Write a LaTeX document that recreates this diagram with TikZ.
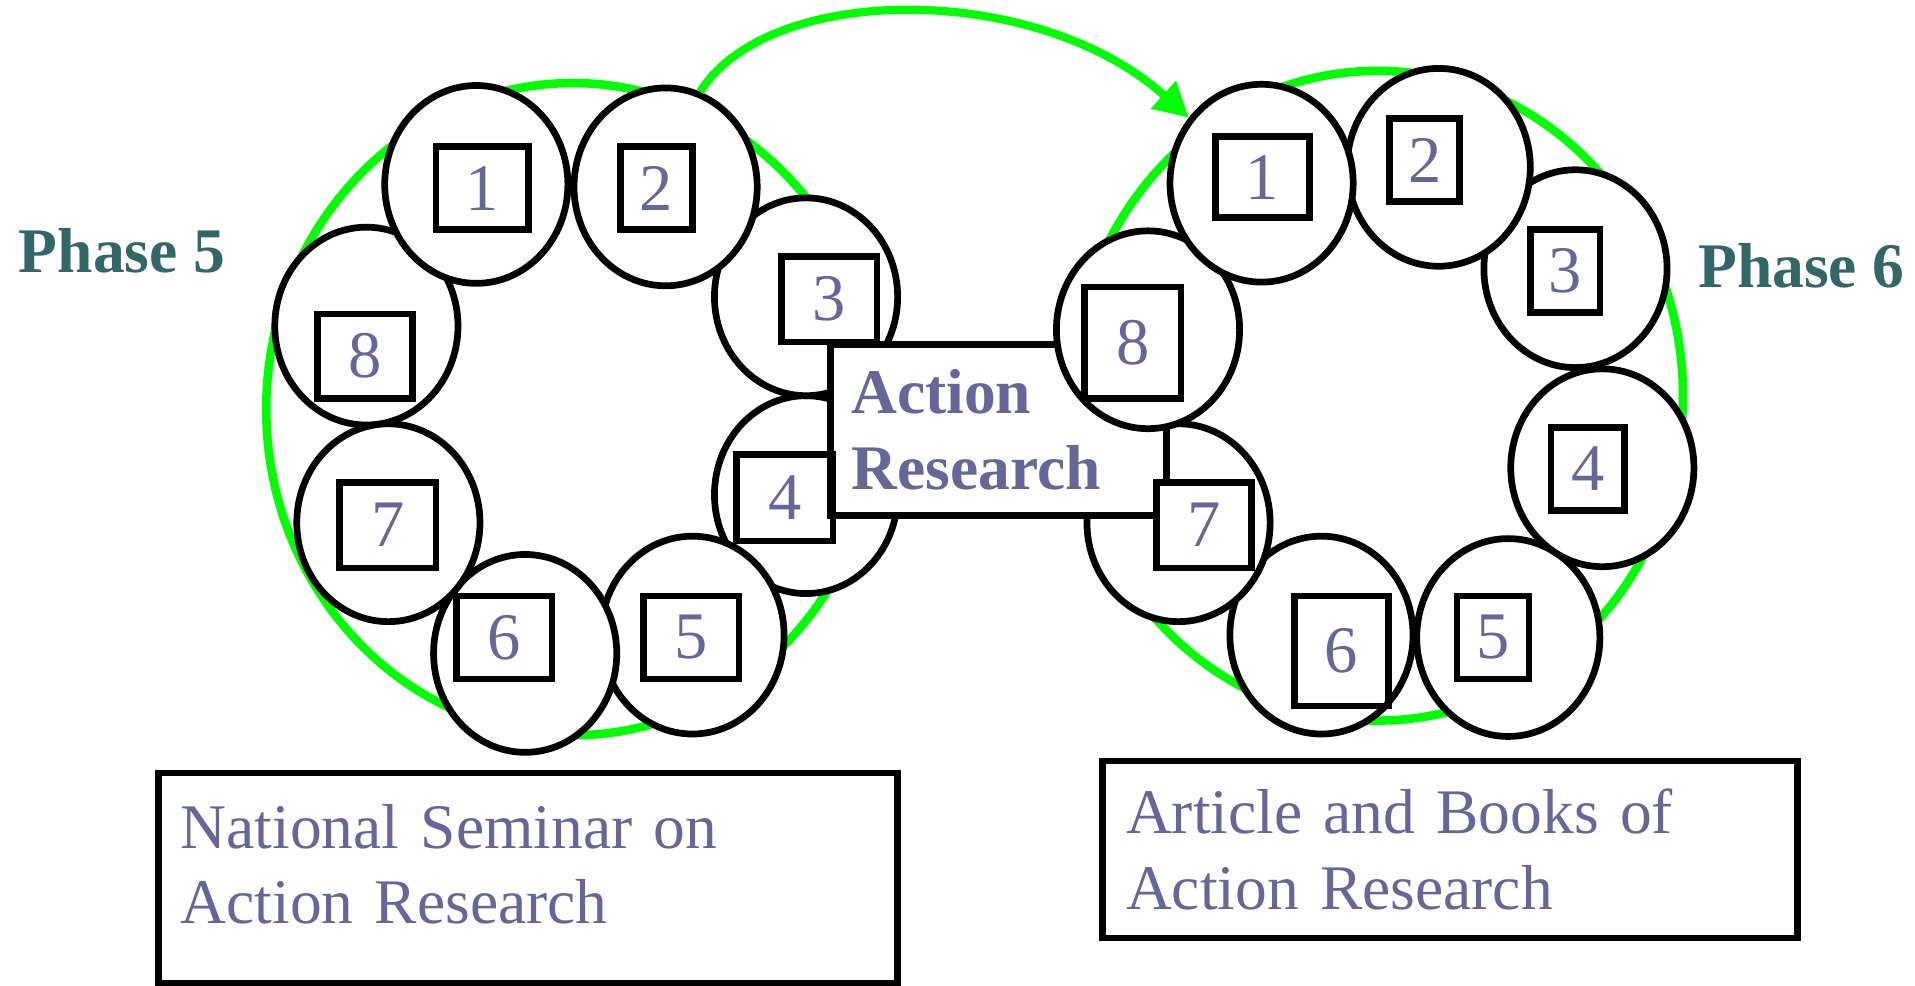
\documentclass[tikz,border=0pt]{standalone}
\usepackage{fontspec}
\setmainfont{Liberation Serif}
\usetikzlibrary{shapes.geometric,arrows.meta}
\definecolor{slate}{HTML}{666699}
\definecolor{phaseteal}{HTML}{336666}
\definecolor{ringgreen}{HTML}{00FF00}
\tikzset{
  cell/.style={ellipse, draw=black, fill=white, line width=0.55mm, minimum width=1.5cm, minimum height=1.62cm, inner sep=0pt},
  numbox/.style={rectangle, draw=black, line width=0.55mm, inner sep=0pt, text=slate, font=\fontsize{15.5}{18}\selectfont},
  loopline/.style={ellipse, draw=ringgreen, line width=0.7mm, inner sep=0pt},
  phaselabel/.style={text=phaseteal, font=\fontsize{14.8}{17.6}\selectfont\bfseries},
  textbox/.style={rectangle, draw=black, fill=white, line width=0.55mm, align=left, text=slate, font=\fontsize{14.8}{17.6}\selectfont}
}
\begin{document}
\begin{tikzpicture}[x=0.1mm, y=-0.1mm]
\useasboundingbox (0,0) rectangle (1568,807);
% green rings
\node[loopline, minimum width=5.02cm, minimum height=5.34cm] (ringL) at (469,335) {};
\node[loopline, minimum width=5.0cm, minimum height=5.32cm] (ringR) at (1128,324) {};
% phase 5 cells
\node[cell] (L4) at (660,405) {};
\node[cell] (L5) at (567,520) {};
\node[cell] (L6) at (430,535) {};
\node[cell] (L8) at (300,267) {};
\node[cell] (L7) at (318,428) {};
\node[cell] (L3) at (660,243) {};
\node[cell] (L2) at (545,153) {};
\node[cell] (L1) at (390,151) {};
% phase 6 cells
\node[cell] (R5) at (1235,522) {};
\node[cell] (R6) at (1082,520) {};
\node[cell] (R7) at (965,428) {};
\node[textbox, font=\fontsize{14.8}{17.6}\selectfont\bfseries, minimum width=2.75cm, minimum height=1.4cm, text width=2.41cm, inner xsep=0.17cm] (action) at (817.5,352) {Action\\Research};
\node[cell] (R8) at (940,270) {};
\node[cell] (R4) at (1312,383) {};
\node[cell] (R3) at (1290,220) {};
\node[cell] (R2) at (1178,137) {};
\node[cell] (R1) at (1033,150) {};
% numbered squares
\node[numbox, minimum width=0.76cm, minimum height=0.68cm] (SL1) at (395,154) {1};
\node[numbox, minimum width=0.59cm, minimum height=0.68cm] (SL2) at (537.5,154) {2};
\node[numbox, minimum width=0.78cm, minimum height=0.70cm] (SL3) at (679,245) {3};
\node[numbox, minimum width=0.79cm, minimum height=0.71cm] (SL4) at (642.5,407.5) {4};
\node[numbox, minimum width=0.78cm, minimum height=0.68cm] (SL5) at (566,522) {5};
\node[numbox, minimum width=0.78cm, minimum height=0.68cm] (SL6) at (413,522) {6};
\node[numbox, minimum width=0.79cm, minimum height=0.70cm] (SL7) at (317.5,430) {7};
\node[numbox, minimum width=0.78cm, minimum height=0.69cm] (SL8) at (299,291.5) {8};
\node[numbox, minimum width=0.77cm, minimum height=0.66cm] (SR1) at (1033.5,145) {1};
\node[numbox, minimum width=0.57cm, minimum height=0.68cm] (SR2) at (1166.5,131) {2};
\node[numbox, minimum width=0.57cm, minimum height=0.68cm] (SR3) at (1281.5,222) {3};
\node[numbox, minimum width=0.60cm, minimum height=0.68cm] (SR4) at (1300,384) {4};
\node[numbox, minimum width=0.59cm, minimum height=0.68cm] (SR5) at (1222.5,522) {5};
\node[numbox, minimum width=0.77cm, minimum height=0.90cm] (SR6) at (1098.5,533) {6};
\node[numbox, fill=white, minimum width=0.78cm, minimum height=0.70cm] (SR7) at (986,430) {7};
\node[numbox, minimum width=0.79cm, minimum height=0.91cm] (SR8) at (927.5,280.5) {8};
% labels
\node[phaselabel] (phase5) at (100,205) {Phase 5};
\node[phaselabel] (phase6) at (1475,218) {Phase 6};
\node[textbox, minimum width=6.05cm, minimum height=1.72cm, text width=5.69cm, text depth=0.85cm, inner xsep=0.18cm] (seminar) at (432.5,719) {National Seminar on\\Action Research};
\node[textbox, minimum width=5.69cm, minimum height=1.45cm, text width=5.31cm, inner xsep=0.19cm] (books) at (1187.5,695.5) {Article and Books of\\Action Research};
% phase arrow
\draw[ringgreen, line width=0.67mm, -{Triangle[length=2.8mm, width=2.9mm]}] (L2.70) .. controls (630,-15) and (850,-15) .. (R1.138);
\end{tikzpicture}
\end{document}
